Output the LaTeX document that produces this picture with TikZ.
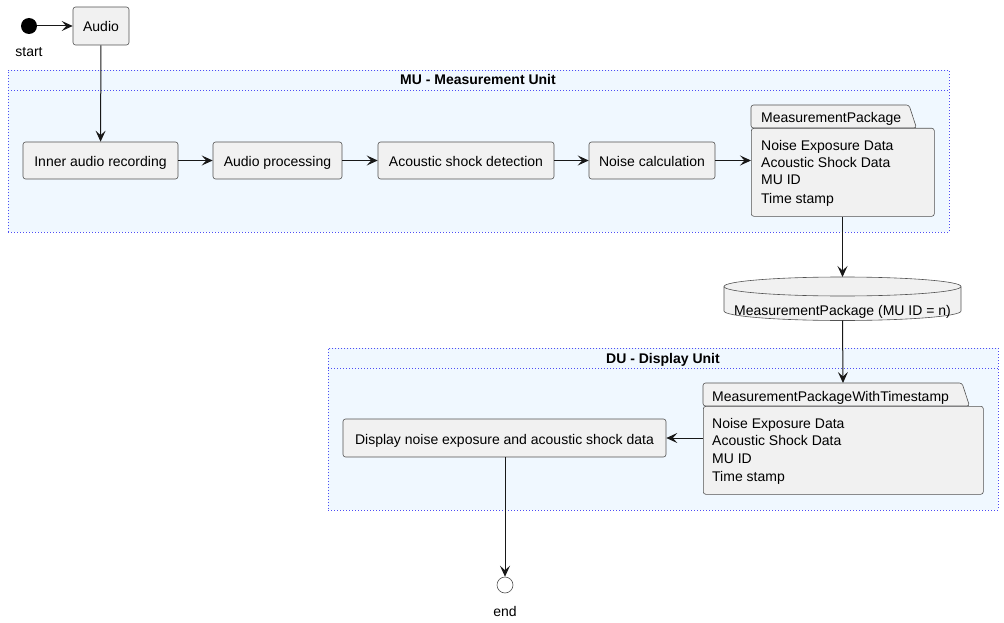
\documentclass[tikz,border=0pt]{standalone}
\usepackage{fontspec}
\setmainfont{Liberation Sans}
\usetikzlibrary{arrows.meta}
\definecolor{boxfill}{HTML}{F1F1F1}
\definecolor{boxline}{HTML}{181818}
\definecolor{grpfill}{HTML}{F0F8FF}
\definecolor{grpline}{HTML}{4D4DF5}
\tikzset{
  txt/.style={font=\fontsize{14}{17}\selectfont, inner sep=0pt, text=black, text height=10pt, text depth=0pt},
  actbox/.style={draw=boxline!75, fill=boxfill, rounded corners=2.5pt, line width=0.6pt,
    minimum height=37pt, inner sep=0pt, font=\fontsize{14}{17}\selectfont, text height=12pt, text depth=0pt},
  pkgbody/.style={draw=boxline!75, fill=boxfill, rounded corners=2.5pt, line width=0.6pt,
    inner sep=0pt, anchor=north west},
  pkgtab/.style={draw=boxline!75, fill=boxfill, rounded corners=2.5pt, line width=0.6pt},
  grp/.style={draw=grpline, fill=grpfill, line width=0.8pt, dash pattern=on 1pt off 2pt,
    inner sep=0pt, anchor=north west},
  grpbar/.style={draw=grpline, line width=0.8pt, dash pattern=on 1pt off 2pt},
  grptitle/.style={font=\bfseries\fontsize{14}{17}\selectfont, inner sep=0pt, text height=10pt, text depth=0pt},
  conn/.style={draw=boxline, line width=1pt, -{Stealth[length=11pt,width=10pt,inset=4.5pt]}},
}
\begin{document}
\begin{tikzpicture}[x=1pt,y=-1pt]
\useasboundingbox (0,0) rectangle (1004,623);

% start
\node[circle, fill=black, minimum size=16pt, inner sep=0pt] (start) at (29,26) {};
\node[txt] (startl) at (29,52) {start};
\node[actbox, minimum width=56pt, minimum height=38pt] (audio) at (101,26) {Audio};

% MU group
\node[grp, minimum width=941pt, minimum height=162pt] (mu) at (8,70) {};
\draw[grpbar] ([yshift=-20pt]mu.north west) -- ([yshift=-20pt]mu.north east);
\node[grptitle] (mut) at (478,80) {MU - Measurement Unit};

\node[actbox, minimum width=155pt] (inner) at (100.5,160.5) {Inner audio recording};
\node[actbox, minimum width=129pt] (proc) at (277.5,160.5) {Audio processing};
\node[actbox, minimum width=176pt] (shock) at (466,160.5) {Acoustic shock detection};
\node[actbox, minimum width=126pt] (noise) at (652,160.5) {Noise calculation};

% package 1
\draw[pkgtab] (751,128) -- (751,105) -- (909,105) -- (916.5,128) -- cycle;
\node[pkgbody, minimum width=183pt, minimum height=88pt] (pkg1) at (751,128) {};
\node[txt, anchor=west] (pkg1t) at (761,118) {MeasurementPackage};
\node[txt, anchor=west] (pkg1a) at (761,145) {Noise Exposure Data};
\node[txt, anchor=west] (pkg1b) at (761,162.5) {Acoustic Shock Data};
\node[txt, anchor=west] (pkg1c) at (761,180) {MU ID};
\node[txt, anchor=west] (pkg1d) at (761,198) {Time stamp};

% database
\coordinate (dbtop) at (842.5,277);
\coordinate (dbbot) at (842.5,320.5);
\fill[boxfill] (724,286.5) -- (724,311) arc[start angle=180,end angle=360,x radius=118.5pt,y radius=9.5pt]
  -- (961,286.5) arc[start angle=0,end angle=180,x radius=118.5pt,y radius=9.5pt] -- cycle;
\draw[boxline!75, line width=0.6pt] (724,286.5) -- (724,311) arc[start angle=180,end angle=360,x radius=118.5pt,y radius=9.5pt]
  -- (961,286.5);
\draw[boxline!75, line width=0.6pt] (842.5,286.5) ellipse[x radius=118.5pt,y radius=9.5pt];
\node[txt] (dbl) at (842.5,310) {MeasurementPackage (MU ID = n)};

% DU group
\node[grp, minimum width=670pt, minimum height=162pt] (du) at (328,348) {};
\draw[grpbar] ([yshift=-20pt]du.north west) -- ([yshift=-20pt]du.north east);
\node[grptitle] (dut) at (663,358) {DU - Display Unit};

% package 2
\draw[pkgtab] (703,406) -- (703,383) -- (962,383) -- (969.5,406) -- cycle;
\node[pkgbody, minimum width=280pt, minimum height=88pt] (pkg2) at (703,406) {};
\node[txt, anchor=west] (pkg2t) at (712,396) {MeasurementPackageWithTimestamp};
\node[txt, anchor=west] (pkg2a) at (712,423) {Noise Exposure Data};
\node[txt, anchor=west] (pkg2b) at (712,440.5) {Acoustic Shock Data};
\node[txt, anchor=west] (pkg2c) at (712,458) {MU ID};
\node[txt, anchor=west] (pkg2d) at (712,476) {Time stamp};
\coordinate (pkg2top) at (843,383);

\node[actbox, minimum width=323pt, minimum height=38pt] (disp) at (504.5,438) {Display noise exposure and acoustic shock data};

% end
\node[circle, draw=boxline!75, fill=white, line width=0.6pt, minimum size=16pt, inner sep=0pt] (end) at (505,585) {};
\node[txt] (endl) at (505,611) {end};

% connectors
\draw[conn] (start) -- (audio);
\draw[conn] (audio) -- (inner);
\draw[conn] (inner) -- (proc);
\draw[conn] (proc) -- (shock);
\draw[conn] (shock) -- (noise);
\draw[conn] (noise.east) -- (pkg1.west |- noise.east);
\draw[conn] (pkg1.south -| dbtop) -- (dbtop);
\draw[conn] (dbbot) -- (pkg2top);
\draw[conn] (pkg2.west |- disp.east) -- (disp.east);
\draw[conn] (disp.south -| end) -- (end.north);
\end{tikzpicture}
\end{document}
